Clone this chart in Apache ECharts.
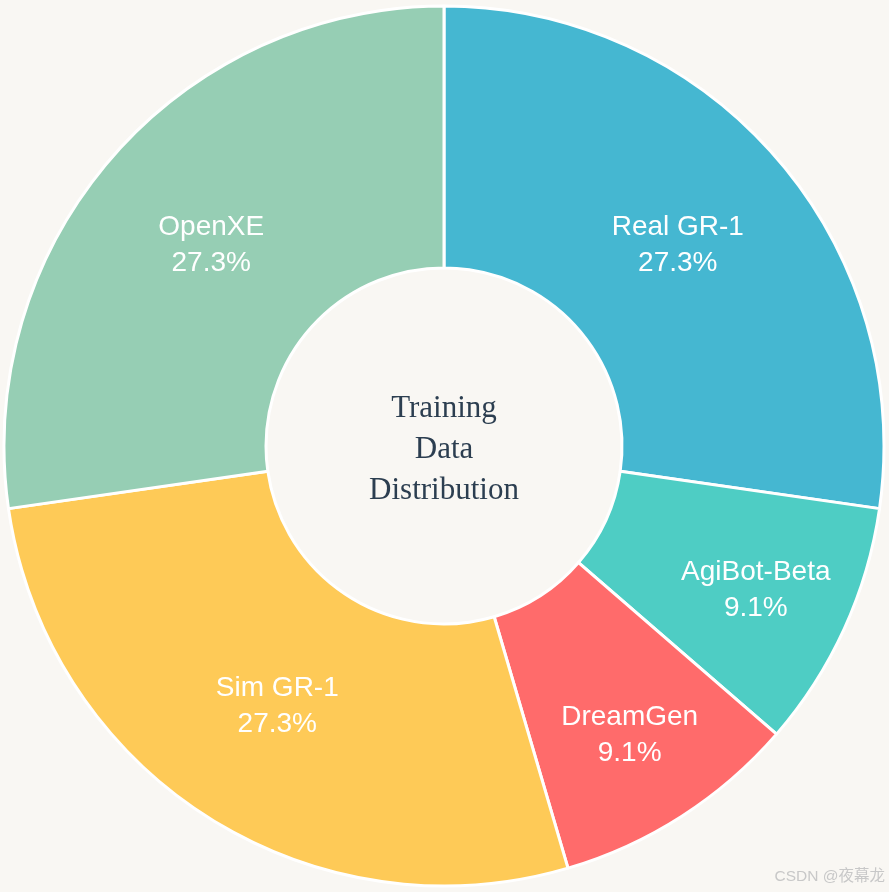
<!DOCTYPE html>
<html>
<head>
<meta charset="utf-8">
<script src="https://cdn.jsdelivr.net/npm/echarts@6/dist/echarts.min.js"></script>
<style>
html,body{margin:0;padding:0;background:#f9f7f3;}
#main{width:889px;height:892px;}
</style>
</head>
<body>
<div id="main"></div>
<script>
const categories = ['Real GR-1', 'AgiBot-Beta', 'DreamGen', 'Sim GR-1', 'OpenXE'];
const values = [3, 1, 1, 3, 3];
const colors = ['#45b7d1', '#4ecdc4', '#ff6b6b', '#feca57', '#96ceb4'];
const labelOffsets = [[-2, 4], [28, 15], [17, 27], [2, -2], [3, 4]];

const chart = echarts.init(document.getElementById('main'));
chart.setOption({
  backgroundColor: '#f9f7f3',
  animation: false,
  graphic: [
    {
      type: 'text', x: 444, y: 450,
      style: {
        text: 'Training\nData\nDistribution',
        align: 'center', verticalAlign: 'middle',
        font: '31px "Liberation Serif", serif',
        lineHeight: 41,
        fill: '#2c3e50'
      }
    },
    {
      type: 'text', x: 885, y: 877,
      style: {
        text: 'CSDN @夜幕龙',
        align: 'right', verticalAlign: 'middle',
        font: '15.5px "Liberation Sans", "Noto Sans CJK SC", sans-serif',
        fill: '#c8c8c8'
      }
    }
  ],
  series: [{
    type: 'pie',
    center: [444, 446],
    radius: [178, 440],
    startAngle: 90,
    clockwise: true,
    itemStyle: { borderColor: '#ffffff', borderWidth: 3 },
    label: {
      show: true,
      position: 'inside',
      color: '#ffffff',
      fontFamily: '"Liberation Sans", Arial, sans-serif',
      fontSize: 28,
      lineHeight: 36,
      formatter: p => p.name + '\n' + p.percent.toFixed(1) + '%'
    },
    labelLine: { show: false },
    emphasis: { disabled: true },
    data: categories.map((c, i) => ({
      name: c, value: values[i],
      itemStyle: { color: colors[i] },
      label: { offset: labelOffsets[i] }
    }))
  }]
});
</script>
</body>
</html>
